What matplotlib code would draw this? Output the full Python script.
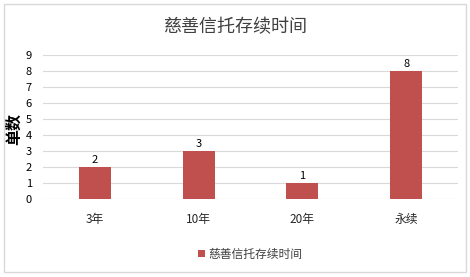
import matplotlib
matplotlib.use("Agg")
import matplotlib.pyplot as plt
from matplotlib.patches import Rectangle

plt.rcParams['font.family'] = ['Noto Sans CJK SC', 'DejaVu Sans']

categories = ["3年", "10年", "20年", "永续"]
values = [2, 3, 1, 8]
series_name = "慈善信托存续时间"
title = "慈善信托存续时间"
ylabel = "单数"
yticks = list(range(0, 10))

W, H = 470, 277
fig = plt.figure(figsize=(W/100, H/100), dpi=100)
fig.patches.append(Rectangle((4/W, 5/H), 462/W, 268/H, transform=fig.transFigure,
                             fill=False, edgecolor="#D9D9D9", linewidth=1))
ax = fig.add_axes([43/W, 1-199/H, 415/W, 144/H])
color = "#C0504D"
x = list(range(len(categories)))
bars = ax.bar(x, values, width=0.31, color=color, label=series_name, zorder=3)
for xi, v in zip(x, values):
    ax.text(xi, v + 0.12, str(v), ha="center", va="bottom", fontsize=8, color="#000000")
ax.set_xlim(-0.5, len(categories) - 0.5)
ax.set_ylim(0, 9)
ax.set_yticks(yticks)
ax.set_yticklabels([str(t) for t in yticks], fontsize=8)
ax.set_xticks(x)
ax.set_xticklabels(categories, fontsize=8.5, color="#262626")
ax.tick_params(axis="both", length=0)
ax.tick_params(axis="y", pad=8)
ax.tick_params(axis="x", pad=10)
ax.grid(axis="y", color="#D9D9D9", linewidth=0.8, zorder=0)
for s in ax.spines.values():
    s.set_visible(False)
fig.text(14/W, 1-129/H, ylabel, rotation=90, ha="center", va="center", fontsize=11.5, fontweight="bold")
fig.text(235/W, 1-27/H, title, ha="center", va="center", fontsize=13, color="#404040")
fig.legend(handles=[bars], labels=[series_name], loc="center", bbox_to_anchor=(250/W, 1-254/H),
           frameon=False, fontsize=8.5, handlelength=0.6, handleheight=0.6, handletextpad=0.3,
           labelcolor="#404040")
fig.savefig("out.png", dpi=100, facecolor="white")
